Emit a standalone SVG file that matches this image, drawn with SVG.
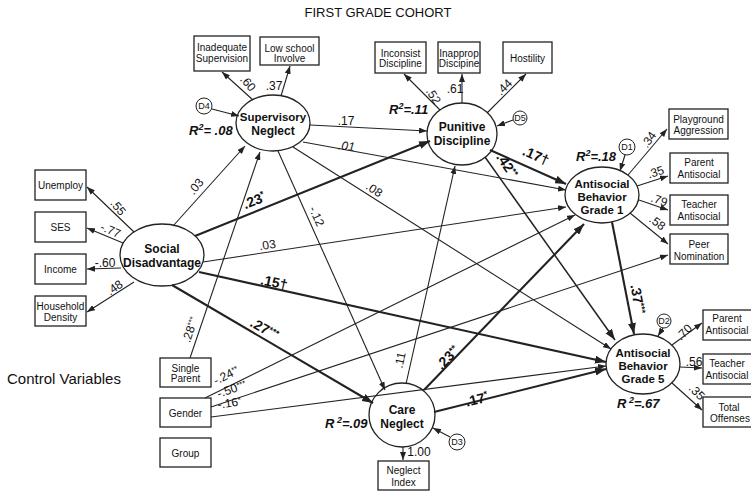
<svg xmlns="http://www.w3.org/2000/svg" width="751" height="491" viewBox="0 0 751 491">
<style>
text{font-family:"Liberation Sans",Arial,sans-serif;fill:#111}
.box{fill:#fff;stroke:#222;stroke-width:1.3}
.lat{fill:#fff;stroke:#222;stroke-width:1.3}
.d{fill:#fff;stroke:#222;stroke-width:1}
.bt{font-size:10px;text-anchor:middle}
.nt{font-size:12px;font-weight:bold;text-anchor:middle}
.c{font-size:12px;text-anchor:middle}
.cb{font-size:14px;font-weight:bold;text-anchor:middle}
.r2{font-size:13px;font-weight:bold;font-style:italic}
.dt{font-size:9px;text-anchor:middle}
.l{stroke:#222;stroke-width:1.1;fill:none;marker-end:url(#a)}
.lm{stroke:#222;stroke-width:1.5;fill:none;marker-end:url(#ab)}
.lb{stroke:#222;stroke-width:2.1;fill:none;marker-end:url(#ab)}
</style>
<defs>
<marker id="a" markerUnits="userSpaceOnUse" markerWidth="8" markerHeight="6" viewBox="0 0 8 6" refX="8" refY="3" orient="auto"><path d="M0,0 L8,3 L0,6 z" fill="#222"/></marker>
<marker id="ab" markerUnits="userSpaceOnUse" markerWidth="11" markerHeight="8" viewBox="0 0 11 8" refX="11" refY="4" orient="auto"><path d="M0,0 L11,4 L0,8 z" fill="#222"/></marker>
</defs>
<rect width="751" height="491" fill="#fff"/>
<text x="378" y="17" style="font-size:13px" text-anchor="middle">FIRST GRADE COHORT</text>
<text x="7" y="384" style="font-size:15px">Control Variables</text>

<g id="nodes">
<g id="inadequate"><rect class="box" x="194" y="36" width="56" height="35"/><text class="bt" x="222" y="51">Inadequate</text><text class="bt" x="222" y="62">Supervision</text></g>
<g id="lowschool"><rect class="box" x="260" y="37" width="59" height="28"/><text class="bt" x="289.5" y="52">Low school</text><text class="bt" x="289.5" y="62">Involve</text></g>
<g id="inconsist"><rect class="box" x="375" y="42" width="51" height="31"/><text class="bt" x="400.5" y="57">Inconsist</text><text class="bt" x="400.5" y="67">Discipline</text></g>
<g id="inapprop"><rect class="box" x="438" y="42" width="42" height="31"/><text class="bt" x="459" y="57">Inapprop</text><text class="bt" x="459" y="67">Discipine</text></g>
<g id="hostility"><rect class="box" x="503" y="42" width="49" height="31"/><text class="bt" x="527.5" y="62">Hostility</text></g>
<g id="playground"><rect class="box" x="669" y="109" width="59" height="30"/><text class="bt" x="698.5" y="123">Playground</text><text class="bt" x="698.5" y="134">Aggression</text></g>
<g id="parent1"><rect class="box" x="670" y="153" width="58" height="30"/><text class="bt" x="699" y="166">Parent</text><text class="bt" x="699" y="178">Antisocial</text></g>
<g id="teacher1"><rect class="box" x="670" y="195" width="58" height="30"/><text class="bt" x="699" y="208">Teacher</text><text class="bt" x="699" y="220">Antisocial</text></g>
<g id="peer"><rect class="box" x="670" y="234" width="58" height="30"/><text class="bt" x="699" y="248">Peer</text><text class="bt" x="699" y="260">Nomination</text></g>
<g id="parent5"><rect class="box" x="703" y="310" width="55" height="30"/><text class="bt" x="727" y="322">Parent</text><text class="bt" x="727" y="334">Antisocial</text></g>
<g id="teacher5"><rect class="box" x="703" y="354" width="55" height="30"/><text class="bt" x="727" y="367">Teacher</text><text class="bt" x="727" y="379">Antisocial</text></g>
<g id="offenses"><rect class="box" x="703" y="397" width="55" height="30"/><text class="bt" x="729" y="411">Total</text><text class="bt" x="730" y="422">Offenses</text></g>
<g id="unemploy"><rect class="box" x="35" y="170" width="51" height="30"/><text class="bt" x="60.5" y="189">Unemploy</text></g>
<g id="ses"><rect class="box" x="35" y="212" width="51" height="30"/><text class="bt" x="60.5" y="231">SES</text></g>
<g id="income"><rect class="box" x="35" y="254" width="51" height="30"/><text class="bt" x="60.5" y="273">Income</text></g>
<g id="household"><rect class="box" x="35" y="296" width="51" height="30"/><text class="bt" x="60.5" y="310">Household</text><text class="bt" x="60.5" y="321">Density</text></g>
<g id="singleparent"><rect class="box" x="160" y="358" width="51" height="29"/><text class="bt" x="185.5" y="372">Single</text><text class="bt" x="185.5" y="382">Parent</text></g>
<g id="gender"><rect class="box" x="160" y="398" width="51" height="29"/><text class="bt" x="185.5" y="417">Gender</text></g>
<g id="group"><rect class="box" x="160" y="438" width="51" height="29"/><text class="bt" x="185.5" y="457">Group</text></g>
<g id="neglectindex"><rect class="box" x="378" y="461" width="51" height="29"/><text class="bt" x="403.5" y="474">Neglect</text><text class="bt" x="403.5" y="486">Index</text></g>

<g id="supneglect"><ellipse class="lat" cx="273" cy="123" rx="37" ry="28"/><text class="nt" x="273" y="121" style="font-size:11.5px">Supervisory</text><text class="nt" x="273" y="135">Neglect</text></g>
<g id="punitive"><ellipse class="lat" cx="462" cy="134" rx="35" ry="31"/><text class="nt" x="462" y="131">Punitive</text><text class="nt" x="462" y="145">Discipline</text></g>
<g id="ab1"><ellipse class="lat" cx="602" cy="195" rx="37" ry="28"/><text class="nt" x="602" y="188" style="font-size:11.5px">Antisocial</text><text class="nt" x="602" y="201" style="font-size:11.5px">Behavior</text><text class="nt" x="602" y="214" style="font-size:11.5px">Grade 1</text></g>
<g id="socdis"><ellipse class="lat" cx="162" cy="255" rx="42" ry="31"/><text class="nt" x="162" y="253">Social</text><text class="nt" x="162" y="267">Disadvantage</text></g>
<g id="careneglect"><ellipse class="lat" cx="402" cy="415" rx="33" ry="32"/><text class="nt" x="402" y="414">Care</text><text class="nt" x="402" y="428">Neglect</text></g>
<g id="ab5"><ellipse class="lat" cx="643" cy="364" rx="37" ry="30"/><text class="nt" x="643" y="357" style="font-size:11.5px">Antisocial</text><text class="nt" x="643" y="370" style="font-size:11.5px">Behavior</text><text class="nt" x="643" y="383" style="font-size:11.5px">Grade 5</text></g>

<g id="d4"><circle class="d" cx="204" cy="106" r="8"/><text class="dt" x="204" y="109">D4</text></g>
<g id="d5"><circle class="d" cx="520" cy="118" r="7"/><text class="dt" x="520" y="121">D5</text></g>
<g id="d1"><circle class="d" cx="627" cy="147" r="8"/><text class="dt" x="627" y="150">D1</text></g>
<g id="d2"><circle class="d" cx="664" cy="321" r="7"/><text class="dt" x="664" y="324">D2</text></g>
<g id="d3"><circle class="d" cx="457" cy="442" r="8"/><text class="dt" x="457" y="445">D3</text></g>
</g>

<g id="connectors">
<line class="l" x1="253" y1="100" x2="222" y2="72"/>
<line class="l" x1="281" y1="96" x2="290" y2="66"/>
<line class="l" x1="440" y1="110" x2="404" y2="74"/>
<line class="l" x1="462" y1="103" x2="462" y2="74"/>
<line class="l" x1="487" y1="113" x2="526" y2="74"/>
<line class="l" x1="513" y1="120" x2="497" y2="126"/>
<line class="l" x1="212" y1="109" x2="239" y2="116"/>
<line class="l" x1="628" y1="175" x2="667" y2="129"/>
<line class="l" x1="637" y1="186" x2="668" y2="176"/>
<line class="l" x1="639" y1="200" x2="668" y2="210"/>
<line class="l" x1="630" y1="213" x2="668" y2="244"/>
<line class="l" x1="625" y1="155" x2="620" y2="171"/>
<line class="l" x1="134" y1="232" x2="87" y2="187"/>
<line class="l" x1="123" y1="243" x2="87" y2="228"/>
<line class="l" x1="121" y1="268" x2="87" y2="269"/>
<line class="l" x1="134" y1="282" x2="87" y2="312"/>
<line class="l" x1="403" y1="447" x2="403" y2="460"/>
<line class="l" x1="450" y1="437" x2="433" y2="428"/>
<line class="l" x1="672" y1="345" x2="702" y2="323"/>
<line class="l" x1="680" y1="367" x2="702" y2="368"/>
<line class="l" x1="672" y1="383" x2="702" y2="410"/>
<line class="l" x1="663" y1="328" x2="658" y2="336"/>

<line class="l" x1="173" y1="226" x2="245" y2="146"/>
<line class="lb" x1="195" y1="236" x2="430" y2="141"/>
<line class="l" x1="203" y1="262" x2="566" y2="207"/>
<line class="lb" x1="199" y1="272" x2="606" y2="362"/>
<line class="lb" x1="172" y1="285" x2="373" y2="403"/>
<line class="l" x1="190" y1="358" x2="260" y2="152"/>
<line class="l" x1="310" y1="125" x2="427" y2="131"/>
<line class="l" x1="303" y1="142" x2="566" y2="190"/>
<line class="l" x1="293" y1="147" x2="611" y2="349"/>
<line class="l" x1="278" y1="151" x2="385" y2="390"/>
<line class="lb" x1="490" y1="150" x2="566" y2="184"/>
<line class="lm" x1="485" y1="157" x2="615" y2="340"/>
<line class="lb" x1="612" y1="222" x2="634" y2="334"/>
<line class="l" x1="406" y1="384" x2="455" y2="166"/>
<line class="lb" x1="424" y1="390" x2="584" y2="224"/>
<line class="lb" x1="434" y1="412" x2="606" y2="369"/>
<line class="l" x1="205" y1="398" x2="575" y2="215"/>
<line class="l" x1="211" y1="407" x2="668" y2="255"/>
<line class="l" x1="211" y1="417" x2="606" y2="366"/>
</g>

<g id="labels">
<text class="c" transform="translate(245,86) rotate(48)">.60</text>
<text class="c" x="274" y="90">.37</text>
<text class="c" transform="translate(430,98) rotate(58)">.52</text>
<text class="c" x="455" y="93">.61</text>
<text class="c" transform="translate(507,90) rotate(-45)">.44</text>
<text class="c" transform="translate(652,142) rotate(-55)">.34</text>
<text class="c" transform="translate(657,176) rotate(-18)">.35</text>
<text class="c" transform="translate(658,204) rotate(19)">.79</text>
<text class="c" transform="translate(655,226) rotate(36)">.58</text>
<text class="c" transform="translate(115,210) rotate(50)">.55</text>
<text class="c" transform="translate(109,234) rotate(23)">-.77</text>
<text class="c" x="105" y="267">-.60</text>
<text class="c" transform="translate(117,291) rotate(-35)">.48</text>
<text class="c" x="419" y="456">1.00</text>
<text class="c" transform="translate(687,335) rotate(-45)">.70</text>
<text class="c" x="694" y="366">.56</text>
<text class="c" transform="translate(694,395) rotate(45)">.35</text>

<text class="c" transform="translate(199,189) rotate(-50)">.03</text>
<text class="cb" transform="translate(256,205) rotate(-22)">.23<tspan font-size="9" dy="-5">*</tspan></text>
<text class="c" transform="translate(268,249) rotate(-9)">.03</text>
<text class="cb" transform="translate(273,287) rotate(12)">.15†</text>
<text class="cb" transform="translate(262,333) rotate(30)">.27<tspan font-size="9" dy="-4">***</tspan></text>
<text class="c" transform="translate(194,331) rotate(-71)">.28<tspan font-size="8" dy="-3">***</tspan></text>
<text class="c" x="346" y="125">.17</text>
<text class="c" transform="translate(346,150) rotate(6)" font-style="italic">.01</text>
<text class="c" transform="translate(372,193) rotate(34)">.08</text>
<text class="c" transform="translate(313,218) rotate(66)">-.12</text>
<text class="c" transform="translate(404,361) rotate(-77)">.11</text>
<text class="cb" transform="translate(451,361) rotate(-46)">.23<tspan font-size="9" dy="-4">**</tspan></text>
<text class="cb" transform="translate(478,404) rotate(-14)">.17<tspan font-size="9" dy="-5">*</tspan></text>
<text class="cb" transform="translate(534,160) rotate(24)">.17†</text>
<text class="cb" transform="translate(503,168) rotate(57)">.42<tspan font-size="9" dy="-4">**</tspan></text>
<text class="cb" transform="translate(633,300) rotate(79)">.37<tspan font-size="9" dy="-4">***</tspan></text>
<text class="c" transform="translate(228,379) rotate(-27)">-.24<tspan font-size="8" dy="-3">**</tspan></text>
<text class="c" transform="translate(233,393) rotate(-19)">-.50<tspan font-size="8" dy="-3">***</tspan></text>
<text class="c" transform="translate(230,407) rotate(-9)">-.16<tspan font-size="8" dy="-3">*</tspan></text>

<text class="r2" x="189" y="135">R<tspan font-size="9" dy="-5">2</tspan><tspan dy="5">=  .08</tspan></text>
<text class="r2" x="389" y="114">R<tspan font-size="9" dy="-5">2</tspan><tspan dy="5">=.11</tspan></text>
<text class="r2" x="576" y="161">R<tspan font-size="9" dy="-5">2</tspan><tspan dy="5">=.18</tspan></text>
<text class="r2" x="325" y="428">R<tspan font-size="9" dy="-5"> 2</tspan><tspan dy="5">=.09</tspan></text>
<text class="r2" x="617" y="408">R<tspan font-size="9" dy="-5"> 2</tspan><tspan dy="5">=.67</tspan></text>
</g>
</svg>
